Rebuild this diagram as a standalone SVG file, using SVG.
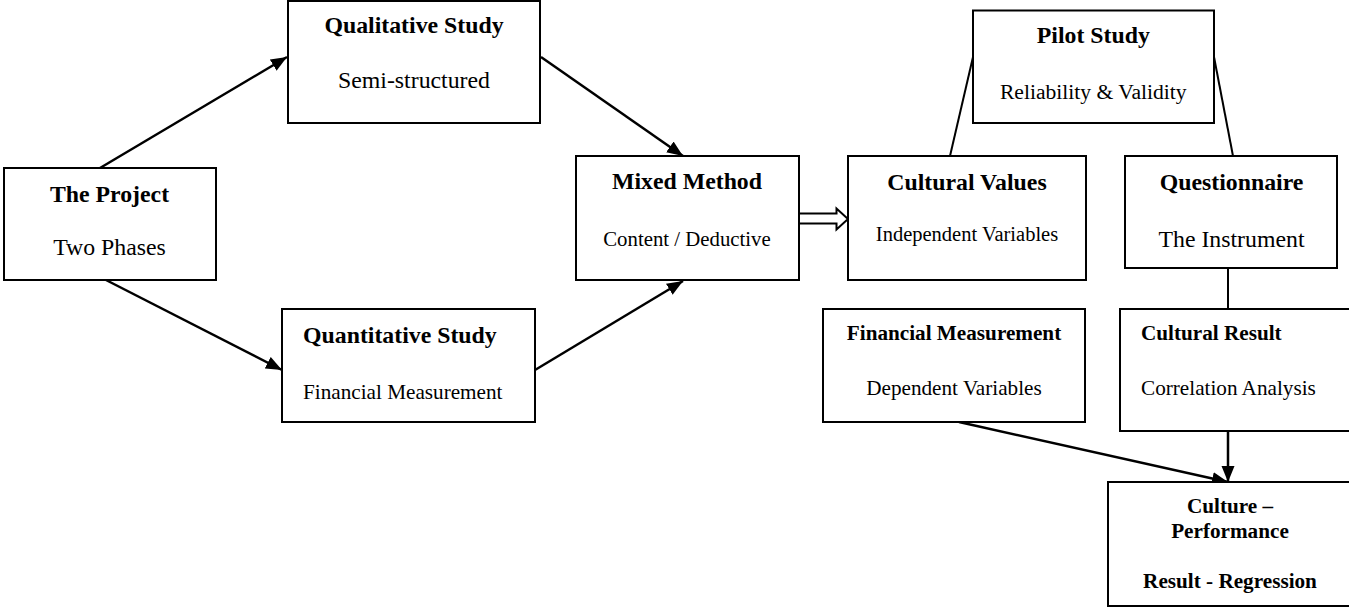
<svg xmlns="http://www.w3.org/2000/svg" width="1349" height="608" viewBox="0 0 1349 608">
  <style>
    .box { fill: #ffffff; stroke: #000000; stroke-width: 2; }
    .t { font-family: "Liberation Serif", "Times New Roman", serif; fill: #000000; }
    .b { font-weight: bold; }
    .big { font-size: 23.8px; }
    .sm { font-size: 21.2px; }
    .mid { text-anchor: middle; }
    .conn { stroke: #000000; stroke-width: 2.5; fill: none; }
    .thin { stroke: #000000; stroke-width: 2; fill: none; }
  </style>
  <defs>
    <marker id="ah" markerUnits="userSpaceOnUse" markerWidth="17" markerHeight="14" refX="16" refY="6.5" orient="auto">
      <path d="M0,0 L16,6.5 L0,13 Z" fill="#000000"/>
    </marker>
  </defs>
  <rect width="1349" height="608" fill="#ffffff"/>

  <g id="connectors">
    <line class="conn" x1="100" y1="168" x2="287" y2="57" marker-end="url(#ah)"/>
    <line class="conn" x1="106" y1="280" x2="282" y2="370" marker-end="url(#ah)"/>
    <line class="conn" x1="541" y1="57" x2="683" y2="156" marker-end="url(#ah)"/>
    <line class="conn" x1="535" y1="370" x2="683" y2="281" marker-end="url(#ah)"/>
    <path d="M799,213.5 H836.5 V208.5 L848,219 L836.5,229.5 V223.5 H799" fill="#ffffff" stroke="#000000" stroke-width="2"/>
    <line class="thin" x1="973" y1="57" x2="950" y2="156"/>
    <line class="thin" x1="1214" y1="57" x2="1233" y2="156"/>
    <line class="thin" x1="1228" y1="268" x2="1228" y2="309"/>
    <line class="conn" x1="1228" y1="431" x2="1228" y2="482" marker-end="url(#ah)"/>
    <line class="conn" x1="959" y1="422" x2="1228" y2="482" marker-end="url(#ah)"/>
  </g>

  <g id="project">
    <rect class="box" x="4" y="168" width="212" height="112"/>
    <text class="t b big mid" x="109.5" y="201.7">The Project</text>
    <text class="t big mid" x="109.5" y="255">Two Phases</text>
  </g>

  <g id="qualitative">
    <rect class="box" x="288" y="1" width="252" height="122"/>
    <text class="t b big mid" x="414" y="33.3">Qualitative Study</text>
    <text class="t big mid" x="414" y="88.3">Semi-structured</text>
  </g>

  <g id="quantitative">
    <rect class="box" x="282" y="309" width="253" height="113"/>
    <text class="t b big" x="303" y="343">Quantitative Study</text>
    <text class="t sm" x="303" y="399">Financial Measurement</text>
  </g>

  <g id="mixed">
    <rect class="box" x="576" y="156" width="223" height="124"/>
    <text class="t b big mid" x="687" y="189">Mixed Method</text>
    <text class="t mid" style="font-size:20.8px" x="687" y="245.7">Content / Deductive</text>
  </g>

  <g id="cultural-values">
    <rect class="box" x="848" y="156" width="238" height="124"/>
    <text class="t b big mid" x="967" y="190">Cultural Values</text>
    <text class="t mid" style="font-size:20.5px" x="967" y="240.7">Independent Variables</text>
  </g>

  <g id="pilot">
    <rect class="box" x="973" y="10.5" width="241" height="112.5"/>
    <text class="t b big mid" x="1093.3" y="43">Pilot Study</text>
    <text class="t mid" style="font-size:21.6px" x="1093.3" y="99">Reliability &amp; Validity</text>
  </g>

  <g id="questionnaire">
    <rect class="box" x="1125" y="156" width="212" height="112"/>
    <text class="t b big mid" x="1231.5" y="190">Questionnaire</text>
    <text class="t big mid" x="1231.5" y="246.7">The Instrument</text>
  </g>

  <g id="financial">
    <rect class="box" x="823" y="309" width="262" height="113"/>
    <text class="t b sm mid" x="954" y="340">Financial Measurement</text>
    <text class="t sm mid" x="954" y="395">Dependent Variables</text>
  </g>

  <g id="cultural-result">
    <rect class="box" x="1120" y="309" width="260" height="122"/>
    <text class="t b sm" x="1141" y="340">Cultural Result</text>
    <text class="t sm" x="1141" y="395">Correlation Analysis</text>
  </g>

  <g id="culture-performance">
    <rect class="box" x="1108" y="482" width="270" height="124"/>
    <text class="t b sm mid" x="1230" y="513">Culture –</text>
    <text class="t b sm mid" x="1230" y="538">Performance</text>
    <text class="t b sm mid" x="1230" y="588">Result - Regression</text>
  </g>
</svg>
